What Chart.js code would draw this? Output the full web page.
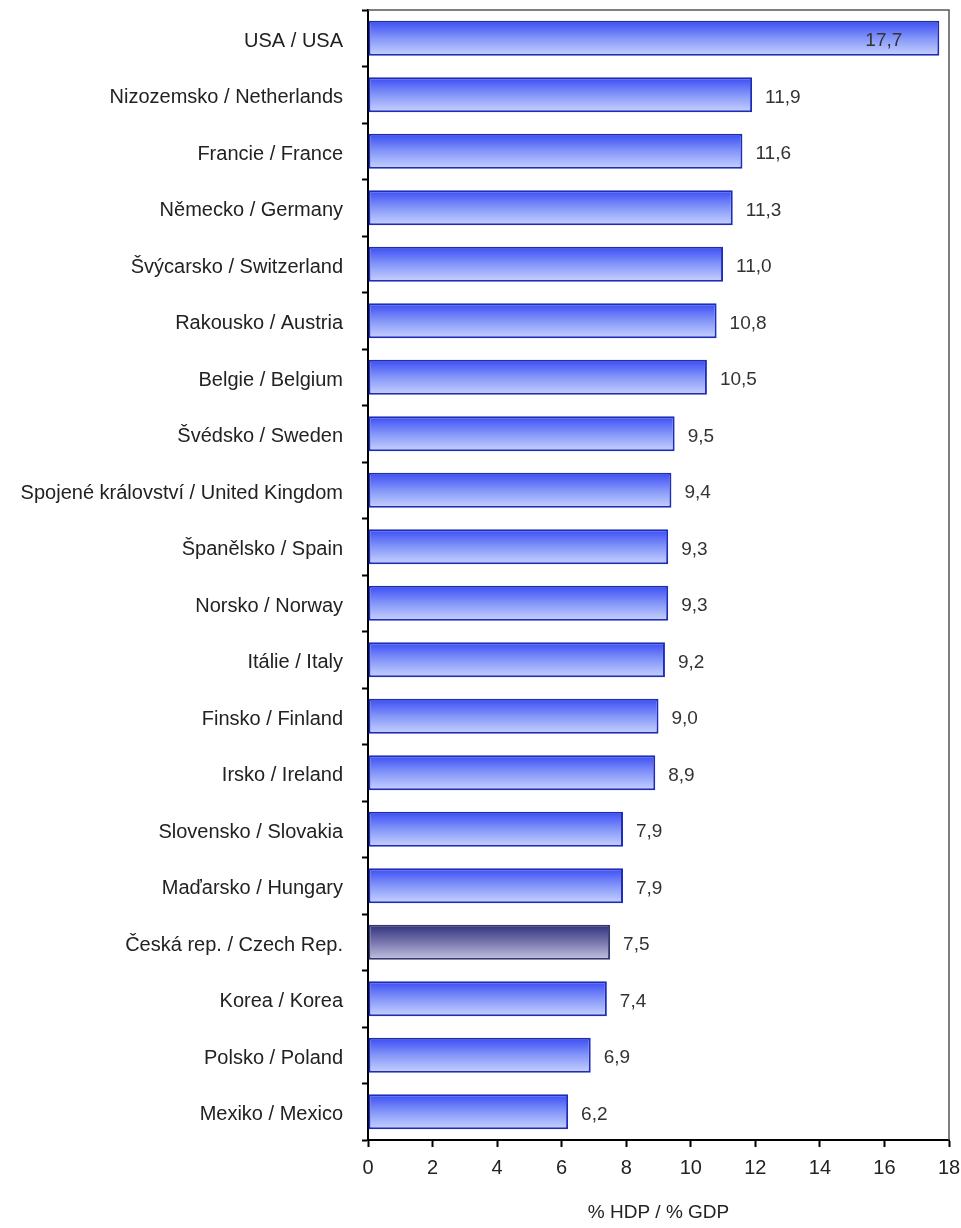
<!DOCTYPE html>
<html>
<head>
<meta charset="utf-8">
<script src="https://cdn.jsdelivr.net/npm/chart.js@4"></script>
<style>
  html, body { margin: 0; padding: 0; background: #fff; }
  #wrap { width: 961px; height: 1228px; position: relative; }
</style>
</head>
<body>
<div id="wrap"><canvas id="chart"></canvas></div>
<script>
const countries = [
  'USA / USA', 'Nizozemsko / Netherlands', 'Francie / France', 'Německo / Germany',
  'Švýcarsko / Switzerland', 'Rakousko / Austria', 'Belgie / Belgium', 'Švédsko / Sweden',
  'Spojené království / United Kingdom', 'Španělsko / Spain', 'Norsko / Norway',
  'Itálie / Italy', 'Finsko / Finland', 'Irsko / Ireland', 'Slovensko / Slovakia',
  'Maďarsko / Hungary', 'Česká rep. / Czech Rep.', 'Korea / Korea', 'Polsko / Poland',
  'Mexiko / Mexico'
];
const spending = [17.7, 11.9, 11.6, 11.3, 11.0, 10.8, 10.5, 9.5, 9.4, 9.3, 9.3, 9.2, 9.0, 8.9, 7.9, 7.9, 7.5, 7.4, 6.9, 6.2];
const highlight = 'Česká rep. / Czech Rep.';
const xTicks = [0, 2, 4, 6, 8, 10, 12, 14, 16, 18];

const FONT = "'Liberation Sans Narrow', 'Arial Narrow', 'Liberation Sans', Arial, sans-serif";
const BAR_FRAC = 0.62;

function barFill(ctx) {
  var chart = ctx.chart;
  if (!chart.chartArea || !chart.scales.y) return '#6070f0';
  var y = chart.scales.y;
  var slot = (y.bottom - y.top) / countries.length;
  var yc = y.getPixelForValue(ctx.dataIndex);
  var h = slot * BAR_FRAC / 2;
  var g = chart.ctx.createLinearGradient(0, yc - h, 0, yc + h);
  if (countries[ctx.dataIndex] === highlight) {
    g.addColorStop(0, '#2f2f7c');
    g.addColorStop(0.5, '#7876ae');
    g.addColorStop(1, '#c4c2e0');
  } else {
    g.addColorStop(0, '#3a4cf4');
    g.addColorStop(0.5, '#8496f8');
    g.addColorStop(1, '#c8d2ff');
  }
  return g;
}

const framePlugin = {
  id: 'frame',
  beforeDatasetsDraw(chart) {
    var a = chart.chartArea, c = chart.ctx;
    c.save();
    c.strokeStyle = '#555';
    c.lineWidth = 1.5;
    c.beginPath();
    c.moveTo(a.left, a.top);
    c.lineTo(a.right, a.top);
    c.lineTo(a.right, a.bottom);
    c.stroke();
    c.restore();
  }
};

const valueLabels = {
  id: 'valueLabels',
  afterDatasetsDraw(chart) {
    var c = chart.ctx;
    var meta = chart.getDatasetMeta(0);
    c.save();
    c.font = '19px ' + FONT;
    c.fillStyle = '#333';
    c.textBaseline = 'middle';
    meta.data.forEach(function(bar, i) {
      var txt = spending[i].toFixed(1).replace('.', ',');
      if (i === 0) {
        c.textAlign = 'right';
        c.fillText(txt, bar.x - 37, bar.y + 3);
      } else {
        c.textAlign = 'left';
        c.fillText(txt, bar.x + 13, bar.y + 3);
      }
    });
    c.restore();
  }
};

new Chart(document.getElementById('chart'), {
  type: 'bar',
  data: {
    labels: countries,
    datasets: [{
      data: spending,
      backgroundColor: barFill,
      borderColor: function(ctx) {
        return countries[ctx.dataIndex] === highlight ? '#363670' : '#1e2cb8';
      },
      borderWidth: 2,
      borderSkipped: false,
      categoryPercentage: 1,
      barPercentage: BAR_FRAC
    }]
  },
  options: {
    indexAxis: 'y',
    responsive: true,
    maintainAspectRatio: false,
    animation: false,
    layout: { padding: { top: 10, right: 12, left: 0, bottom: 0 } },
    plugins: {
      legend: { display: false },
      tooltip: { enabled: false }
    },
    scales: {
      x: {
        min: 0,
        max: 18,
        afterBuildTicks: function(scale) {
          scale.ticks = xTicks.map(function(v) { return { value: v }; });
        },
        afterFit: function(scale) {
          scale.height = 88;
          scale.paddingLeft = 0;
          scale.paddingRight = 0;
        },
        grid: {
          drawOnChartArea: false,
          drawTicks: true,
          tickLength: 7,
          tickWidth: 2,
          tickColor: '#000'
        },
        border: { display: true, color: '#000', width: 2 },
        ticks: {
          color: '#222',
          font: { family: FONT, size: 20 },
          padding: 9
        },
        title: {
          display: true,
          text: '% HDP / % GDP',
          color: '#222',
          font: { family: FONT, size: 19 },
          padding: { top: 14 }
        }
      },
      y: {
        afterFit: function(scale) {
          scale.width = 368;
          scale.paddingTop = 0;
          scale.paddingBottom = 0;
        },
        grid: {
          offset: true,
          drawOnChartArea: false,
          drawTicks: true,
          tickLength: 6,
          tickWidth: 2,
          tickColor: '#000'
        },
        border: { display: true, color: '#000', width: 2 },
        ticks: {
          color: '#222',
          font: { family: FONT, size: 20 },
          padding: 19,
          labelOffset: 3,
          autoSkip: false
        }
      }
    }
  },
  plugins: [framePlugin, valueLabels]
});
</script>
</body>
</html>
